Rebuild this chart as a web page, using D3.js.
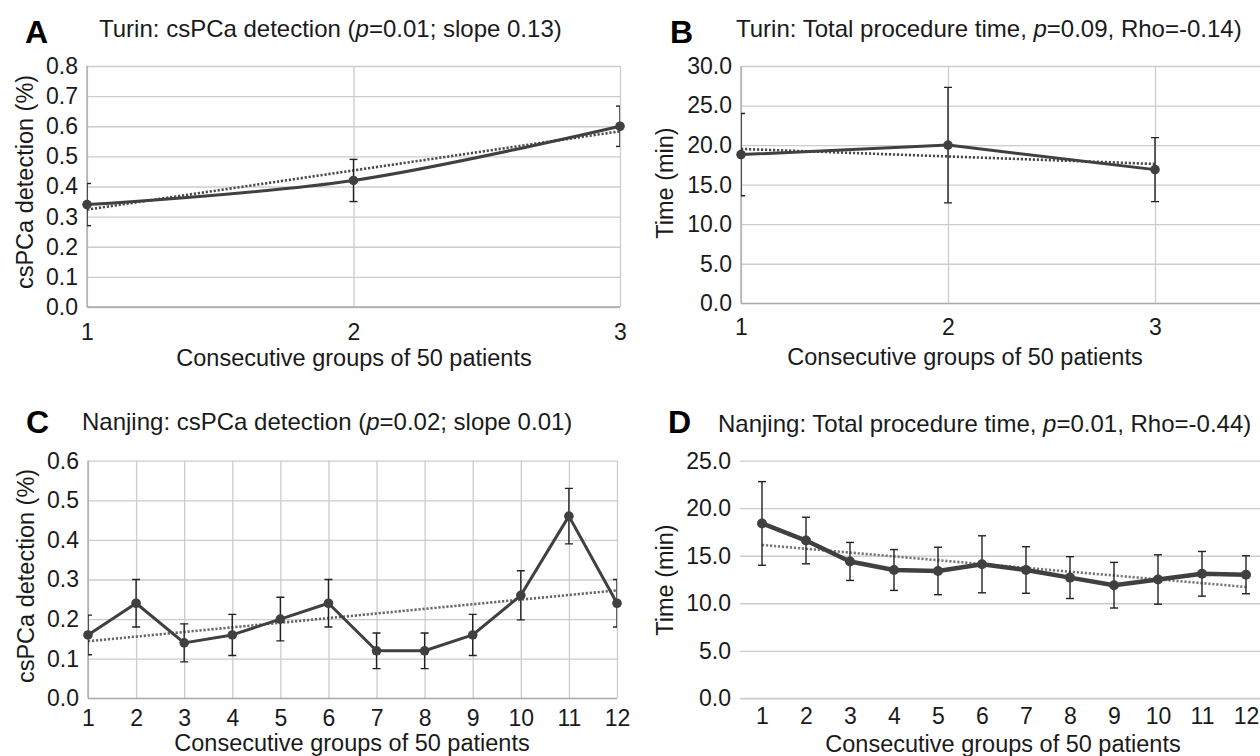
<!DOCTYPE html>
<html>
<head>
<meta charset="utf-8">
<script src="https://cdn.jsdelivr.net/npm/d3@7"></script>
<style>
  html, body { margin: 0; padding: 0; background: #fff; }
  svg { display: block; font-family: "Liberation Sans", Arial, Helvetica, sans-serif; }
</style>
</head>
<body>
<svg id="fig" width="1260" height="756"></svg>
<script>
// ---- data ----
const turinGroups = [1, 2, 3];
const turinDetection = [0.34, 0.42, 0.60];
const turinDetectionErr = [0.07, 0.07, 0.067];
const turinTime = [18.8, 20.0, 16.9];
const turinTimeErr = [5.2, 7.3, 4.05];

const nanjingGroups = [1, 2, 3, 4, 5, 6, 7, 8, 9, 10, 11, 12];
const nanjingDetection = [0.16, 0.24, 0.14, 0.16, 0.20, 0.24, 0.12, 0.12, 0.16, 0.26, 0.46, 0.24];
const nanjingDetectionErr = [0.05, 0.06, 0.048, 0.052, 0.055, 0.06, 0.045, 0.045, 0.052, 0.062, 0.07, 0.06];
const nanjingTime = [18.4, 16.6, 14.4, 13.5, 13.4, 14.1, 13.5, 12.7, 11.9, 12.5, 13.1, 13.0];
const nanjingTimeErr = [4.4, 2.45, 2.0, 2.15, 2.5, 3.0, 2.45, 2.2, 2.4, 2.6, 2.35, 2.0];

const detectionTicksTurin = [0, 0.1, 0.2, 0.3, 0.4, 0.5, 0.6, 0.7, 0.8];
const detectionTicksNanjing = [0, 0.1, 0.2, 0.3, 0.4, 0.5, 0.6];
const timeTicksTurin = [0, 5, 10, 15, 20, 25, 30];
const timeTicksNanjing = [0, 5, 10, 15, 20, 25];

const xAxisTitle = "Consecutive groups of 50 patients";

// ---- styling ----
const GRID = "#cccccc";
const AXIS = "#a9a9a9";
const INK = "#1a1a1a";
const SERIES = "#404040";
const TICK_FONT = 23;

const svg = d3.select("#fig");

// least-squares fit over the plotted groups
function linearFit(xs, ys) {
  const n = xs.length;
  const mx = d3.mean(xs), my = d3.mean(ys);
  let sxy = 0, sxx = 0;
  for (let i = 0; i < n; i++) { sxy += (xs[i] - mx) * (ys[i] - my); sxx += (xs[i] - mx) ** 2; }
  const b = sxy / sxx, a = my - b * mx;
  return x => a + b * x;
}

function drawPanel(cfg) {
  const g = svg.append("g");
  const [x0, x1] = cfg.plotX;   // plot area horizontal extent
  const [yTop, yBot] = cfg.plotY;
  const y = d3.scaleLinear().domain(cfg.yDomain).range([yBot, yTop]);
  const x = cfg.xScale;
  const fmt = d3.format(".1f");

  // horizontal gridlines
  g.append("g")
    .attr("transform", `translate(${x0},0)`)
    .call(d3.axisLeft(y).tickValues(cfg.yTicks).tickSize(-(x1 - x0)).tickFormat(""))
    .call(s => s.select(".domain").remove())
    .call(s => s.selectAll("line").attr("stroke", GRID).attr("stroke-width", 1.3));

  // vertical gridlines
  if (cfg.vGrid) {
    g.append("g")
      .attr("transform", `translate(0,${yBot})`)
      .call(d3.axisBottom(x).tickValues(cfg.groups).tickSize(-(yBot - yTop)).tickFormat(""))
      .call(s => s.select(".domain").remove())
      .call(s => s.selectAll("line").attr("stroke", GRID).attr("stroke-width", 1.3));
  }

  // axis lines
  if (cfg.axisLines) {
    g.append("line").attr("x1", x0).attr("x2", x0).attr("y1", yTop).attr("y2", yBot)
      .attr("stroke", AXIS).attr("stroke-width", 1.3);
    g.append("line").attr("x1", x0).attr("x2", x1).attr("y1", yBot).attr("y2", yBot)
      .attr("stroke", AXIS).attr("stroke-width", 1.3);
  } else {
    g.append("line").attr("x1", x0).attr("x2", x1).attr("y1", yBot).attr("y2", yBot)
      .attr("stroke", GRID).attr("stroke-width", 1.3);
  }

  // y tick labels
  g.append("g")
    .attr("transform", `translate(${x0 - 9},0)`)
    .call(d3.axisLeft(y).tickValues(cfg.yTicks).tickSize(0).tickPadding(0).tickFormat(fmt))
    .call(s => s.select(".domain").remove())
    .call(s => s.selectAll("text").attr("fill", INK).attr("font-size", TICK_FONT)
      .attr("font-family", "Liberation Sans, Arial, sans-serif"));

  // x tick labels
  g.append("g")
    .attr("transform", `translate(0,${cfg.xLabelY})`)
    .call(d3.axisBottom(x).tickValues(cfg.groups).tickSize(0).tickPadding(0).tickFormat(d3.format("d")))
    .call(s => s.select(".domain").remove())
    .call(s => s.selectAll("text").attr("fill", INK).attr("font-size", TICK_FONT).attr("dy", "0.35em")
      .attr("font-family", "Liberation Sans, Arial, sans-serif"));

  // axis titles
  g.append("text").attr("x", cfg.xTitle[0]).attr("y", cfg.xTitle[1]).attr("dy", "0.35em")
    .attr("text-anchor", "middle").attr("font-size", 23.5).attr("fill", INK).text(xAxisTitle);
  g.append("text")
    .attr("transform", `translate(${cfg.yTitle[0]},${cfg.yTitle[1]}) rotate(-90)`)
    .attr("dy", "0.35em").attr("text-anchor", "middle").attr("font-size", 23.5).attr("fill", INK)
    .text(cfg.yLabel);

  // panel letter and title
  g.append("text").attr("x", cfg.letterPos[0]).attr("y", cfg.letterPos[1])
    .attr("font-size", 32).attr("font-weight", "bold").attr("fill", "#000").text(cfg.letter);
  const t = g.append("text").attr("x", cfg.titlePos[0]).attr("y", cfg.titlePos[1])
    .attr("font-size", 24).attr("fill", INK);
  cfg.title.forEach(part => {
    const ts = t.append("tspan").text(part.text);
    if (part.italic) ts.attr("font-style", "italic");
  });

  const pts = cfg.groups.map((gv, i) => ({ x: gv, v: cfg.values[i], e: cfg.errors[i] }));

  // linear trendline (dotted)
  const fit = linearFit(cfg.groups, cfg.values);
  const gx0 = d3.min(cfg.groups), gx1 = d3.max(cfg.groups);
  g.append("line")
    .attr("x1", x(gx0)).attr("y1", y(fit(gx0)))
    .attr("x2", x(gx1)).attr("y2", y(fit(gx1)))
    .attr("stroke", cfg.trendColor).attr("stroke-width", 2.6).attr("stroke-dasharray", "2.2,1.8");

  // series line
  const line = d3.line().x(d => x(d.x)).y(d => y(d.v))
    .curve(cfg.smooth ? d3.curveCatmullRom.alpha(0.5) : d3.curveLinear);
  g.append("path").datum(pts).attr("d", line).attr("fill", "none")
    .attr("stroke", SERIES).attr("stroke-width", cfg.lineWidth).attr("stroke-linejoin", "round");

  // error bars, clipped to the plot area
  const clipId = "clip-" + cfg.letter;
  svg.append("clipPath").attr("id", clipId).append("rect")
    .attr("x", x0).attr("y", yTop - 20).attr("width", x1 - x0).attr("height", yBot - yTop + 40);
  const eb = g.append("g").attr("clip-path", cfg.clipErrors ? `url(#${clipId})` : null)
    .attr("stroke", "#222").attr("stroke-width", 1.4);
  const cap = 4;
  pts.forEach(d => {
    const cx = x(d.x);
    eb.append("line").attr("x1", cx).attr("x2", cx).attr("y1", y(d.v + d.e)).attr("y2", y(d.v - d.e));
    eb.append("line").attr("x1", cx - cap).attr("x2", cx + cap).attr("y1", y(d.v + d.e)).attr("y2", y(d.v + d.e));
    eb.append("line").attr("x1", cx - cap).attr("x2", cx + cap).attr("y1", y(d.v - d.e)).attr("y2", y(d.v - d.e));
  });

  // markers
  g.append("g").selectAll("circle").data(pts).join("circle")
    .attr("cx", d => x(d.x)).attr("cy", d => y(d.v)).attr("r", cfg.markerR)
    .attr("fill", SERIES);
}

// A — Turin detection
drawPanel({
  letter: "A", letterPos: [25, 43], titlePos: [99, 37],
  title: [{ text: "Turin: csPCa detection (" }, { text: "p", italic: true }, { text: "=0.01; slope 0.13)" }],
  groups: turinGroups, values: turinDetection, errors: turinDetectionErr,
  xScale: d3.scaleLinear().domain([1, 3]).range([87, 620]),
  plotX: [87, 620], plotY: [66, 307], yDomain: [0, 0.8], yTicks: detectionTicksTurin,
  vGrid: true, axisLines: true, smooth: true, lineWidth: 3, markerR: 4.8, clipErrors: true,
  trendColor: "#4a4a4a",
  xLabelY: 332, xTitle: [354, 358], yTitle: [25, 182], yLabel: "csPCa detection (%)"
});

// B — Turin procedure time
drawPanel({
  letter: "B", letterPos: [670, 43], titlePos: [736, 37],
  title: [{ text: "Turin: Total procedure time, " }, { text: "p", italic: true }, { text: "=0.09, Rho=-0.14)" }],
  groups: turinGroups, values: turinTime, errors: turinTimeErr,
  xScale: d3.scaleLinear().domain([1, 3]).range([741, 1155]),
  plotX: [741, 1262], plotY: [66, 303.3], yDomain: [0, 30], yTicks: timeTicksTurin,
  vGrid: true, axisLines: true, smooth: false, lineWidth: 3, markerR: 4.8, clipErrors: true,
  trendColor: "#4a4a4a",
  xLabelY: 327, xTitle: [965, 357], yTitle: [665, 183], yLabel: "Time (min)"
});

// C — Nanjing detection
drawPanel({
  letter: "C", letterPos: [26, 433], titlePos: [82, 430],
  title: [{ text: "Nanjing: csPCa detection (" }, { text: "p", italic: true }, { text: "=0.02; slope 0.01)" }],
  groups: nanjingGroups, values: nanjingDetection, errors: nanjingDetectionErr,
  xScale: d3.scaleLinear().domain([1, 12]).range([88, 617]),
  plotX: [88, 617], plotY: [460.7, 698.3], yDomain: [0, 0.6], yTicks: detectionTicksNanjing,
  vGrid: true, axisLines: true, smooth: false, lineWidth: 3, markerR: 4.8, clipErrors: true,
  trendColor: "#666",
  xLabelY: 718, xTitle: [352, 743], yTitle: [26, 576], yLabel: "csPCa detection (%)"
});

// D — Nanjing procedure time
drawPanel({
  letter: "D", letterPos: [668, 433], titlePos: [718, 432],
  title: [{ text: "Nanjing: Total procedure time, " }, { text: "p", italic: true }, { text: "=0.01, Rho=-0.44)" }],
  groups: nanjingGroups, values: nanjingTime, errors: nanjingTimeErr,
  xScale: d3.scalePoint().domain(nanjingGroups).range([740, 1268]).padding(0.5),
  plotX: [740, 1268], plotY: [460.7, 698.3], yDomain: [0, 25], yTicks: timeTicksNanjing,
  vGrid: false, axisLines: false, smooth: false, lineWidth: 4.5, markerR: 5, clipErrors: false,
  trendColor: "#777",
  xLabelY: 716, xTitle: [1003, 744], yTitle: [665, 580], yLabel: "Time (min)"
});
</script>
</body>
</html>
